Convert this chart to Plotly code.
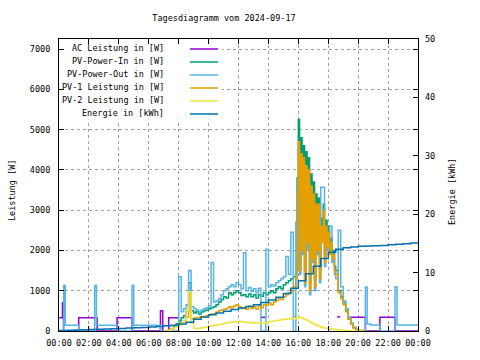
import plotly.graph_objects as go
import pandas as pd

DAY = "2024-09-17"

# ---------------- data ----------------
names = ["AC Leistung in [W]", "PV-Power-In in [W]", "PV-Power-Out in [W]",
         "PV-1 Leistung in [W]", "PV-2 Leistung in [W]", "Energie in [kWh]"]
colors = ["#9400D3", "#009E73", "#56B4E9", "#E69F00", "#F0E442", "#0072B2"]

# daytime sample grid: 07:00-15:40 every 10 min, 15:50-18:30 every 5 min, 18:40-20:20 every 10 min
grid_parts = [("07:00", "15:40", "10min"), ("15:50", "18:30", "5min"), ("18:40", "20:20", "10min")]

pv_in = [0, 0, 30, 60, 120, 180, 250, 330, 380, 500,
         1200, 500, 450, 480, 420, 470, 500, 520, 550, 580,
         600, 650, 720, 780, 850, 820, 950, 900, 950, 1000,
         950, 880, 900, 850, 920, 850, 900, 820, 900, 860,
         950, 900, 950, 1000, 950, 1050, 1100, 1050, 1150, 1200,
         1250, 1300, 1350,
         1450, 3800, 5250, 1700, 4800, 2200, 4600, 1400, 4450, 2400, 4300, 1200, 3900, 2000,
         3700, 1300, 3400, 2200, 3300, 1500, 2800, 2400, 3150, 1900, 2750, 2300, 2600, 2000,
         2300, 1900, 2000, 1600, 1500,
         1000, 850, 700, 500, 300, 180, 80, 40, 0, 0, 0]

pv_out_day = [0, 0, 0, 0, 0, 0, 1350, 480, 550, 650,
              1500, 600, 560, 520, 480, 520, 560, 580, 620, 1700,
              720, 750, 800, 900, 1000, 1050, 1100, 1150, 1100, 1200,
              1150, 1050, 1940, 1000, 1080, 980, 1050, 950, 1060, 0,
              0, 2030, 1100, 1150, 1120, 1200, 1250, 1300, 1350, 1850,
              1400, 2450, 0,
              2700, 1500, 4500, 1400, 4200, 1900, 4100, 1100, 3900, 2000, 3800, 900, 3550, 1700,
              3200, 1000, 3000, 1900, 3000, 1200, 3570, 3570, 3570, 1600, 2400, 2000, 2300, 2600,
              2600, 1700, 1800, 1400, 1300,
              2500, 1100, 750, 550, 350, 200, 100, 40, 0, 0, 0]

pv1 = [0, 0, 20, 50, 90, 140, 180, 200, 250, 350,
       900, 300, 320, 330, 340, 360, 350, 380, 400, 420,
       430, 470, 500, 520, 540, 560, 600, 580, 620, 650,
       600, 560, 580, 540, 620, 560, 600, 540, 620, 580,
       650, 640, 700, 650, 720, 760, 800, 780, 850, 900,
       950, 1000, 1100,
       1300, 3400, 4700, 1500, 4400, 2000, 4300, 1200, 4100, 2200, 4000, 1000, 3600, 1800,
       3400, 1100, 3150, 2000, 3150, 1300, 2600, 2200, 3000, 1700, 2600, 2100, 2450, 1900,
       2200, 1800, 1900, 1500, 1400,
       950, 800, 650, 480, 300, 170, 80, 40, 20, 20, 0]

pv2 = [0, 0, 20, 50, 80, 120, 150, 180, 250, 500,
       975, 200, 70, 60, 70, 80, 90, 100, 120, 130,
       140, 150, 160, 170, 190, 200, 215, 220, 230, 230,
       240, 230, 220, 210, 220, 200, 210, 200, 190, 200,
       200, 210, 230, 240, 250, 260, 270, 280, 290, 300,
       300, 310, 320,
       300, 320, 350, 340, 330, 320, 300, 290, 280, 270, 250, 230, 200, 190,
       180, 165, 150, 135, 120, 110, 100, 90, 80, 75, 70, 65, 60, 55,
       50, 48, 45, 42, 40,
       25, 20, 15, 10, 5, 0, 0, 0, 0, 0, 0]

# PV-Power-Out outside daytime (change points)
pv_out_night_t = ["00:00", "00:19", "00:25", "01:19", "02:23", "02:30", "03:53", "04:53",
                  "05:00", "06:47"]
pv_out_night_v = [0, 1130, 140, 0, 1130, 140, 0, 1130, 140, 0]
pv_out_eve_t = ["20:29", "20:36", "20:50", "21:27", "22:28", "22:36", "24:00"]
pv_out_eve_v = [1090, 175, 150, 0, 1090, 150, 150]

# AC power (change points; None = hidden under the other curves)
ac_t = ["00:00", "00:14", "00:18", "01:19", "02:33", "03:53", "04:53", "06:47", "06:56",
        "07:20", "08:00", "08:00", "13:30", "13:50", "13:50", "15:38", "15:50", "15:50",
        "17:27", "17:30", "17:30", "18:36", "18:48", "18:48", "19:26", "20:29", "21:27",
        "22:28", "24:00"]
ac_v = [330, 700, 0, 330, 0, 330, 0, 500, 0, 330, 330, None, 340, 340, None, 340, 340, None,
        1550, 2000, None, 350, 350, None, 340, 0, 340, 0, 0]

# energy, every 30 minutes 00:00 .. 24:00
energy = [0.10, 0.12, 0.17, 0.20, 0.25, 0.30, 0.33, 0.38, 0.42, 0.50, 0.55, 0.60, 0.70, 0.78,
          0.88, 0.98, 1.20, 1.50, 2.00, 2.40, 2.80, 3.10, 3.40, 3.70, 3.95, 4.20, 4.50, 4.90,
          5.30, 5.80, 6.40, 7.30, 8.60, 9.80, 11.10, 12.40, 13.50, 14.00, 14.25, 14.40, 14.50,
          14.55, 14.60, 14.65, 14.75, 14.85, 14.95, 15.05, 15.20]

x_ticks_fmt = "%H:%M"
title = "Tagesdiagramm vom 2024-09-17"
y_title = "Leistung [W]"
y2_title = "Energie [kWh]"

# ---------------- helpers ----------------
base = pd.Timestamp(DAY)


def ts(hhmm):
    h, m = map(int, hhmm.split(":"))
    return base + pd.Timedelta(hours=h, minutes=m)


day_times = []
for a, b, f in grid_parts:
    day_times += list(pd.date_range(ts(a), ts(b), freq=f))
energy_times = list(pd.date_range(ts("00:00"), ts("24:00"), freq="30min"))

out_t = [ts(t) for t in pv_out_night_t] + day_times + [ts(t) for t in pv_out_eve_t]
out_v = pv_out_night_v + pv_out_day + pv_out_eve_v

FONT = "DejaVu Sans Mono"
FS = 8.5
LW = 1.5

fig = go.Figure()
fig.add_trace(go.Scatter(x=[ts(t) for t in ac_t], y=ac_v, mode="lines", name=names[0],
                         line=dict(color=colors[0], width=LW, shape="hv"), connectgaps=False))
fig.add_trace(go.Scatter(x=day_times, y=pv_in, mode="lines", name=names[1],
                         line=dict(color=colors[1], width=LW, shape="hv")))
fig.add_trace(go.Scatter(x=out_t, y=out_v, mode="lines", name=names[2],
                         line=dict(color=colors[2], width=LW, shape="hv")))
fig.add_trace(go.Scatter(x=day_times, y=pv1, mode="lines", name=names[3],
                         line=dict(color=colors[3], width=LW, shape="hv")))
fig.add_trace(go.Scatter(x=day_times, y=pv2, mode="lines", name=names[4],
                         line=dict(color=colors[4], width=LW, shape="hv")))
fig.add_trace(go.Scatter(x=energy_times, y=energy, mode="lines", name=names[5], yaxis="y2",
                         line=dict(color=colors[5], width=LW, shape="hv")))

L, R, T, B = 59, 62, 39, 29
PW, PH = 480 - L - R, 360 - T - B


def px_x(p):
    return (p - L) / PW


def px_y(p):
    return (360 - B - p) / PH


grid = dict(showgrid=True, gridcolor="#a0a0a0", gridwidth=1, griddash="3px,3px")
fig.update_layout(
    width=480, height=360, margin=dict(l=L, r=R, t=T, b=B),
    paper_bgcolor="white", plot_bgcolor="white", showlegend=False,
    font=dict(family=FONT, size=FS, color="black"),
    title=dict(text=title, x=px_x(224), xref="paper", xanchor="center",
               y=1 - 18 / 360, yref="container", yanchor="middle",
               font=dict(family=FONT, size=FS, color="black")),
    xaxis=dict(type="date", range=[ts("00:00"), ts("24:00")], dtick=7200000,
               tick0=ts("00:00"), tickformat=x_ticks_fmt, ticks="inside", ticklen=5,
               tickcolor="black", showline=True, linecolor="black", linewidth=1,
               mirror="ticks", zeroline=False, ticklabelstandoff=4, **grid),
    yaxis=dict(range=[0, 7250], dtick=1000, tick0=0, ticks="inside", ticklen=5,
               tickcolor="black", showline=True, linecolor="black", linewidth=1,
               mirror="ticks", zeroline=False, ticklabelstandoff=6, **grid),
    yaxis2=dict(overlaying="y", side="right", range=[0, 50], dtick=10, tick0=0,
                ticks="inside", ticklen=5, tickcolor="black", showgrid=False,
                zeroline=False, showline=False, ticklabelstandoff=6),
)

# opaque key box (hides the grid under the key)
fig.add_shape(type="rect", xref="x", yref="y", x0=ts("00:00"), x1=base + pd.Timedelta(hours=10.92),
              y0=5250, y1=7250, fillcolor="white", line=dict(width=0), layer="between")

legend_y = [49, 62, 75, 88, 101, 114]
for name, col, ly in zip(names, colors, legend_y):
    fig.add_annotation(text=name, xref="paper", yref="paper", x=px_x(166), y=px_y(ly - 1),
                       xanchor="right", yanchor="middle", showarrow=False,
                       font=dict(family=FONT, size=FS, color="black"))
    fig.add_shape(type="line", xref="paper", yref="paper", x0=px_x(190), x1=px_x(218),
                  y0=px_y(ly), y1=px_y(ly), line=dict(color=col, width=LW), layer="above")

fig.add_annotation(text=y_title, xref="paper", yref="paper", x=px_x(12), y=px_y(191),
                   textangle=-90, showarrow=False, xanchor="center", yanchor="middle",
                   font=dict(family=FONT, size=FS, color="black"))
fig.add_annotation(text=y2_title, xref="paper", yref="paper", x=px_x(452), y=px_y(191),
                   textangle=-90, showarrow=False, xanchor="center", yanchor="middle",
                   font=dict(family=FONT, size=FS, color="black"))

fig.write_html("out.html", config={"displayModeBar": False},
               post_script="document.body.style.margin='0';document.body.style.overflow='hidden';")
